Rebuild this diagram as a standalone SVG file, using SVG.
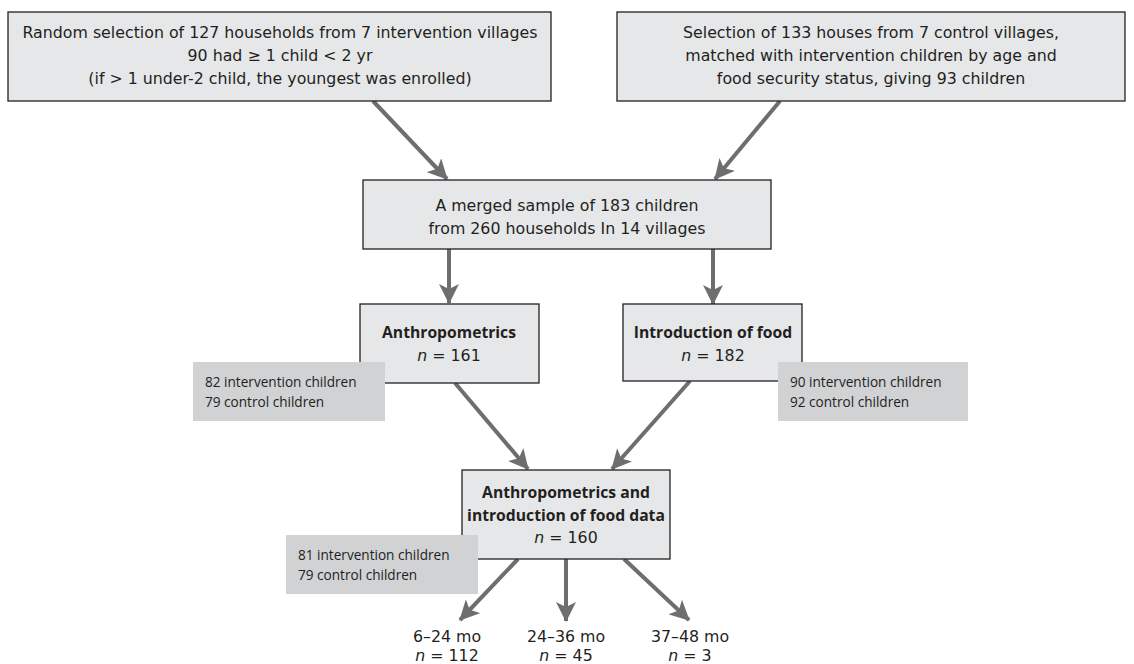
<svg xmlns="http://www.w3.org/2000/svg" width="1134" height="664" viewBox="0 0 1134 664">
<style>
.box{fill:#e6e7e8;stroke:#231f20;stroke-width:1.3}
.note{fill:#d1d2d4}
text{font-family:"DejaVu Sans","Open Sans",sans-serif;font-size:15.8px;fill:#231f20}
.c{text-anchor:middle}
.b{font-family:"Open Sans","DejaVu Sans",sans-serif;font-weight:bold;font-size:15.7px}
.s{font-family:"Open Sans","DejaVu Sans",sans-serif;font-size:13.6px}
.conn{stroke:#6d6e70;stroke-width:4;fill:none;marker-end:url(#ah)}
</style>
<defs>
<marker id="ah" markerUnits="userSpaceOnUse" markerWidth="20" markerHeight="20" refX="19" refY="10" orient="auto">
<path d="M0,0 L20,10 L0,20 L5,10 z" fill="#6d6e70"/>
</marker>
</defs>
<g id="connectors">
<line class="conn" x1="373" y1="101" x2="447" y2="179"/>
<line class="conn" x1="780" y1="101" x2="715" y2="179"/>
<line class="conn" x1="449" y1="249" x2="449" y2="303"/>
<line class="conn" x1="713" y1="249" x2="713" y2="304"/>
<line class="conn" x1="455" y1="383" x2="528" y2="469"/>
<line class="conn" x1="690" y1="381" x2="612" y2="469"/>
<line class="conn" x1="518" y1="559" x2="460" y2="620"/>
<line class="conn" x1="566" y1="559" x2="566" y2="621"/>
<line class="conn" x1="624" y1="559" x2="689" y2="620"/>
</g>
<g id="n1">
<rect class="box" x="8" y="12" width="543" height="89"/>
<text class="c" x="280" y="38">Random selection of 127 households from 7 intervention villages</text>
<text class="c" x="280" y="61">90 had ≥ 1 child &lt; 2 yr</text>
<text class="c" x="280" y="84">(if &gt; 1 under-2 child, the youngest was enrolled)</text>
</g>
<g id="n2">
<rect class="box" x="617" y="12" width="508" height="89"/>
<text class="c" x="871" y="38">Selection of 133 houses from 7 control villages,</text>
<text class="c" x="871" y="61">matched with intervention children by age and</text>
<text class="c" x="871" y="84">food security status, giving 93 children</text>
</g>
<g id="n3">
<rect class="box" x="363" y="180" width="408" height="69"/>
<text class="c" x="567" y="211">A merged sample of 183 children</text>
<text class="c" x="567" y="234">from 260 households In 14 villages</text>
</g>
<g id="n4">
<rect class="box" x="360" y="304" width="179" height="79"/>
<text class="c b" x="449" y="338">Anthropometrics</text>
<text class="c" x="449" y="361"><tspan font-style="italic">n</tspan> = 161</text>
</g>
<g id="n5">
<rect class="box" x="623" y="304" width="179" height="77"/>
<text class="c b" x="713" y="338">Introduction of food</text>
<text class="c" x="713" y="361"><tspan font-style="italic">n</tspan> = 182</text>
</g>
<g id="note1">
<rect class="note" x="193" y="362" width="192" height="59"/>
<text class="s" x="205" y="387">82 intervention children</text>
<text class="s" x="205" y="407">79 control children</text>
</g>
<g id="note2">
<rect class="note" x="778" y="362" width="190" height="59"/>
<text class="s" x="790" y="387">90 intervention children</text>
<text class="s" x="790" y="407">92 control children</text>
</g>
<g id="n6">
<rect class="box" x="462" y="470" width="208" height="89"/>
<text class="c b" x="566" y="498">Anthropometrics and</text>
<text class="c b" x="566" y="521">introduction of food data</text>
<text class="c" x="566" y="543"><tspan font-style="italic">n</tspan> = 160</text>
</g>
<g id="note3">
<rect class="note" x="286" y="535" width="192" height="59"/>
<text class="s" x="298" y="560">81 intervention children</text>
<text class="s" x="298" y="580">79 control children</text>
</g>
<g id="n7">
<text class="c" x="447" y="642">6–24 mo</text>
<text class="c" x="447" y="661"><tspan font-style="italic">n</tspan> = 112</text>
</g>
<g id="n8">
<text class="c" x="566" y="642">24–36 mo</text>
<text class="c" x="566" y="661"><tspan font-style="italic">n</tspan> = 45</text>
</g>
<g id="n9">
<text class="c" x="690" y="642">37–48 mo</text>
<text class="c" x="690" y="661"><tspan font-style="italic">n</tspan> = 3</text>
</g>
</svg>
